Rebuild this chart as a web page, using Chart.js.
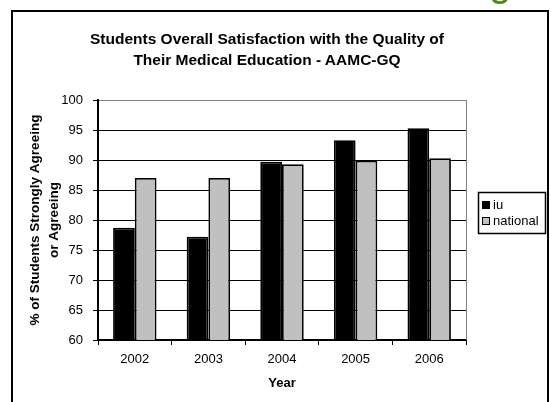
<!DOCTYPE html>
<html>
<head>
<meta charset="utf-8">
<script src="https://cdn.jsdelivr.net/npm/chart.js@4"></script>
<style>
  body { margin: 0; background: #fff; }
  #wrap { position: relative; width: 551px; height: 402px; overflow: hidden; }
  #slideMark {
    position: absolute; left: 489px; top: -38px;
    font: 40px "Liberation Sans", Arial, sans-serif; line-height: 40px;
    color: #4f8a1a;
  }
  #chartTitle {
    position: absolute; left: 67px; width: 400px; top: 28px;
    text-align: center; color: #000;
    font: bold 15.5px "Liberation Sans", Arial, sans-serif; line-height: 21.3px;
  }
</style>
</head>
<body>
<div id="wrap">
  <canvas id="chart" width="551" height="402"></canvas>
  <span id="slideMark">g</span>
  <div id="chartTitle">Students Overall Satisfaction with the Quality of<br>Their Medical Education - AAMC-GQ</div>
</div>
<script>
const years = ['2002', '2003', '2004', '2005', '2006']
const iuValues = [78.7, 77.2, 89.7, 93.3, 95.3]
const nationalValues = [87.0, 87.0, 89.3, 89.9, 90.3]
const seriesNames = ['iu', 'national']
const seriesColors = ['#000000', '#c0c0c0']
const yMin = 60
const yMax = 100
const yStep = 5

const fontFamily = '"Liberation Sans", Arial, sans-serif'

// white page + outer frame + gray plot border on the right
const framePlugin = {
  id: 'frame',
  beforeDraw(chart) {
    const ctx = chart.ctx
    ctx.save()
    ctx.fillStyle = '#fff'
    ctx.fillRect(0, 0, chart.width, chart.height)
    ctx.strokeStyle = '#000'
    ctx.lineWidth = 2
    ctx.strokeRect(12, 11, 536, 400)
    ctx.restore()
  },
  afterDatasetsDraw(chart) {
    const ctx = chart.ctx
    const area = chart.chartArea
    ctx.save()
    ctx.strokeStyle = '#808080'
    ctx.lineWidth = 1
    ctx.beginPath()
    ctx.moveTo(Math.round(area.right) + 0.5, area.top)
    ctx.lineTo(Math.round(area.right) + 0.5, area.bottom)
    ctx.stroke()
    ctx.restore()
  }
}

// boxed legend like the excel one
const boxLegend = {
  id: 'boxLegend',
  afterDraw(chart) {
    const ctx = chart.ctx
    ctx.save()
    ctx.strokeStyle = '#000'
    ctx.lineWidth = 1.5
    ctx.strokeRect(478.5, 192.5, 67, 41)
    ctx.font = '13px ' + fontFamily
    ctx.textBaseline = 'middle'
    chart.data.datasets.forEach((ds, i) => {
      const y = 205 + i * 16
      ctx.fillStyle = ds.backgroundColor
      ctx.fillRect(482, y - 4, 8, 8)
      ctx.strokeStyle = '#000'
      ctx.lineWidth = 1
      ctx.strokeRect(482.5, y - 3.5, 7, 7)
      ctx.fillStyle = '#000'
      ctx.fillText(ds.label, 493, y + 0.5)
    })
    ctx.restore()
  }
}

new Chart(document.getElementById('chart').getContext('2d'), {
  type: 'bar',
  data: {
    labels: years,
    datasets: [
      {
        label: seriesNames[0],
        data: iuValues,
        backgroundColor: seriesColors[0],
        borderColor: '#000',
        borderWidth: 1.8,
        borderSkipped: false
      },
      {
        label: seriesNames[1],
        data: nationalValues,
        backgroundColor: seriesColors[1],
        borderColor: '#000',
        borderWidth: 1.8,
        borderSkipped: false
      }
    ]
  },
  options: {
    responsive: false,
    devicePixelRatio: 1,
    animation: false,
    categoryPercentage: 0.59,
    barPercentage: 1,
    layout: {
      padding: { left: 22, right: 85, top: 100, bottom: 0 }
    },
    plugins: {
      legend: { display: false },
      tooltip: { enabled: false },
      title: { display: false }
    },
    scales: {
      x: {
        afterFit(scale) { scale.height = 62 },
        grid: {
          display: true,
          drawOnChartArea: false,
          drawTicks: true,
          tickLength: 5,
          tickColor: '#000',
          offset: true
        },
        border: { display: true, color: '#000', width: 2 },
        ticks: {
          color: '#000',
          padding: 7,
          font: { family: fontFamily, size: 13 }
        },
        title: {
          display: true,
          text: 'Year',
          color: '#000',
          font: { family: fontFamily, size: 13, weight: 'bold' },
          padding: { top: 4, bottom: 11 }
        }
      },
      y: {
        min: yMin,
        max: yMax,
        afterFit(scale) { scale.width = 76 },
        ticks: {
          stepSize: yStep,
          color: '#000',
          padding: 10,
          font: { family: fontFamily, size: 13 }
        },
        grid: {
          color: ctx => (ctx.tick && ctx.tick.value === yMax ? '#808080' : '#000'),
          lineWidth: 1,
          tickLength: 5,
          tickColor: '#000'
        },
        border: { display: true, color: '#000', width: 2 },
        title: {
          display: true,
          text: ['% of Students Strongly Agreeing', 'or Agreeing'],
          color: '#000',
          font: { family: fontFamily, size: 13.5, weight: 'bold', lineHeight: 1.4 },
          padding: { top: 4, bottom: 4 }
        }
      }
    }
  },
  plugins: [framePlugin, boxLegend]
})
</script>
</body>
</html>
